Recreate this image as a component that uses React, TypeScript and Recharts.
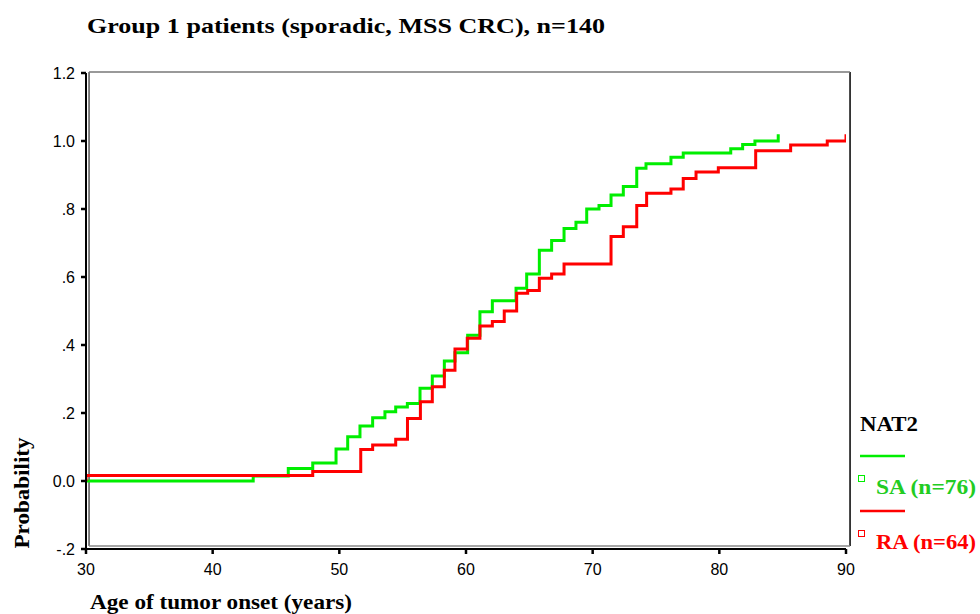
import React from 'react';
import { LineChart, Line, XAxis, YAxis, ReferenceLine, Legend } from 'recharts';

// ---- data ----
const saAges = [30, 43.2, 45.97, 47.9, 49.74, 50.66, 51.63, 52.63, 53.6, 54.45, 55.37, 56.37, 57.34, 58.29, 59.13, 60.13, 61.1, 62.08, 63.95, 64.79, 65.79, 66.76, 67.74, 68.68, 69.53, 70.5, 71.45, 72.42, 73.48, 74.21, 76.18, 77.15, 80.9, 81.84, 82.81, 84.65, 84.65];
const saProb = [0.0, 0.015, 0.037, 0.053, 0.094, 0.13, 0.162, 0.186, 0.204, 0.218, 0.228, 0.273, 0.309, 0.353, 0.377, 0.429, 0.498, 0.53, 0.567, 0.609, 0.679, 0.707, 0.743, 0.761, 0.8, 0.81, 0.841, 0.866, 0.92, 0.933, 0.952, 0.965, 0.977, 0.99, 1.0, 1.0, 1.02];

const raAges = [30, 30, 47.9, 51.69, 52.63, 54.45, 55.38, 56.4, 57.34, 58.29, 59.13, 60.1, 61.1, 62.08, 63.02, 64.0, 64.87, 65.79, 66.76, 67.74, 71.45, 72.42, 73.48, 74.26, 76.18, 77.15, 78.16, 79.92, 82.87, 85.63, 88.52, 90, 90];
const raProb = [0.0, 0.016, 0.028, 0.093, 0.106, 0.123, 0.184, 0.233, 0.277, 0.326, 0.388, 0.42, 0.456, 0.469, 0.5, 0.552, 0.56, 0.596, 0.609, 0.638, 0.719, 0.748, 0.81, 0.846, 0.859, 0.89, 0.909, 0.921, 0.971, 0.988, 1.0, 1.0, 1.02];

const xTicks = [30, 40, 50, 60, 70, 80, 90];
const yTicks = [-0.2, 0, 0.2, 0.4, 0.6, 0.8, 1.0, 1.2];
const yTickLabels = ['-.2', '0.0', '.2', '.4', '.6', '.8', '1.0', '1.2'];

const seriesNames = ['SA (n=76)', 'RA (n=64)'];
const seriesColors = ['#00ee00', '#ff0000'];
const textColors = ['#22cc22', '#ff0000'];
const legendTitle = 'NAT2';
const titleText = 'Group 1 patients (sporadic, MSS CRC), n=140';
const xLabel = 'Age of tumor onset (years)';
const yLabel = 'Probability';

const saData = saAges.map((a, i) => ({ age: a, p: saProb[i] }));
const raData = raAges.map((a, i) => ({ age: a, p: raProb[i] }));

const SERIF = '"Liberation Serif", "Times New Roman", serif';
const SANS = '"Liberation Sans Narrow", "Arial Narrow", "Liberation Sans", Arial, sans-serif';

const LegendContent = () => (
  <svg width={125} height={160} style={{ display: 'block' }}>
    <text x={5} y={26} fontFamily={SERIF} fontWeight="bold" fontSize={21} fill="#000" textLength={58} lengthAdjust="spacingAndGlyphs">{legendTitle}</text>
    {seriesNames.map((n, i) => (
      <g key={n}>
        <line x1={5} x2={50} y1={51 + i * 55} y2={51 + i * 55} stroke={seriesColors[i]} strokeWidth={2.5} />
        <rect x={3.5} y={70.5 + i * 55} width={6} height={6} fill="none" stroke={seriesColors[i]} strokeWidth={1} />
        <text x={21} y={89 + i * 55} fontFamily={SERIF} fontWeight="bold" fontSize={21} fill={textColors[i]} textLength={100} lengthAdjust="spacingAndGlyphs">{n}</text>
      </g>
    ))}
  </svg>
);

export default function App() {
  return (
    <div style={{ position: 'absolute', left: 0, top: 0, width: 980, height: 614, background: '#fff' }}>
      <svg style={{ position: 'absolute', left: 0, top: 0 }} width={980} height={50}>
        <text x={87} y={33} fontFamily={SERIF} fontWeight="bold" fontSize={22} fill="#000" textLength={518} lengthAdjust="spacingAndGlyphs">{titleText}</text>
      </svg>
      <LineChart width={980} height={614} margin={{ top: 73, right: 134, left: 46, bottom: 35 }}>
        <XAxis
          type="number"
          dataKey="age"
          domain={[30, 90]}
          ticks={xTicks}
          allowDataOverflow
          height={30}
          axisLine={{ stroke: '#000', strokeWidth: 2 }}
          tickLine={{ stroke: '#000', strokeWidth: 2.5 }}
          tickSize={5}
          tickMargin={10}
          tick={{ fill: '#000', fontFamily: SANS, fontSize: 16 }}
          label={{
            content: () => (
              <text x={90} y={609} fontFamily={SERIF} fontWeight="bold" fontSize={21} fill="#000" textLength={262} lengthAdjust="spacingAndGlyphs">{xLabel}</text>
            ),
          }}
        />
        <YAxis
          type="number"
          domain={[-0.2, 1.2]}
          ticks={yTicks}
          allowDataOverflow
          width={40}
          axisLine={{ stroke: '#000', strokeWidth: 2 }}
          tickLine={{ stroke: '#000', strokeWidth: 2.5 }}
          tickSize={5}
          tickMargin={6}
          tickFormatter={(v: number) => yTickLabels[yTicks.findIndex((t) => Math.abs(t - v) < 1e-9)] ?? String(v)}
          tick={{ fill: '#000', fontFamily: SANS, fontSize: 16 }}
          label={{
            content: () => (
              <text x={29} y={493} transform="rotate(-90, 29, 493)" textAnchor="middle" fontFamily={SERIF} fontWeight="bold" fontSize={21} fill="#000" textLength={111} lengthAdjust="spacingAndGlyphs">{yLabel}</text>
            ),
          }}
        />
        {/* frame box */}
        <ReferenceLine segment={[{ x: 30.24, y: -0.191 }, { x: 30.24, y: 1.203 }]} stroke="#000" strokeWidth={1} ifOverflow="visible" />
        <ReferenceLine segment={[{ x: 90.32, y: -0.191 }, { x: 90.32, y: 1.203 }]} stroke="#000" strokeWidth={1.5} ifOverflow="visible" />
        <ReferenceLine segment={[{ x: 30.24, y: 1.203 }, { x: 90.32, y: 1.203 }]} stroke="#777" strokeWidth={1.5} ifOverflow="visible" />
        <ReferenceLine segment={[{ x: 30.24, y: -0.191 }, { x: 90.32, y: -0.191 }]} stroke="#888" strokeWidth={1.5} ifOverflow="visible" />
        <Line data={saData} dataKey="p" name={seriesNames[0]} type="stepAfter" stroke={seriesColors[0]} strokeWidth={3} dot={false} activeDot={false} isAnimationActive={false} />
        <Line data={raData} dataKey="p" name={seriesNames[1]} type="stepAfter" stroke={seriesColors[1]} strokeWidth={3} dot={false} activeDot={false} isAnimationActive={false} />
        <Legend content={<LegendContent />} layout="vertical" verticalAlign="middle" align="center" wrapperStyle={{ position: 'absolute', left: 855, top: 405, width: 125 }} />
      </LineChart>
    </div>
  );
}
